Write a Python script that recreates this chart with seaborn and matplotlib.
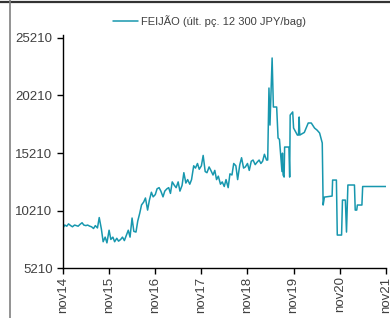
import pandas as pd
import matplotlib.pyplot as plt
import seaborn as sns
from matplotlib.lines import Line2D

# --- dados (preço do feijão, JPY/bag) ---
datas = [
    "2014-11-01", "2014-11-15", "2014-12-01", "2014-12-15", "2015-01-01", "2015-01-15",
    "2015-02-01", "2015-02-15", "2015-03-01", "2015-03-15", "2015-04-01", "2015-04-15",
    "2015-05-01", "2015-05-15", "2015-06-01", "2015-06-15", "2015-07-01", "2015-07-15",
    "2015-08-01", "2015-08-15", "2015-09-01", "2015-09-15", "2015-10-01", "2015-10-15",
    "2015-11-01", "2015-11-15", "2015-12-01", "2015-12-15", "2016-01-01", "2016-01-15",
    "2016-02-01", "2016-02-15", "2016-03-01", "2016-03-15", "2016-04-01", "2016-04-15",
    "2016-05-01", "2016-05-15", "2016-06-01", "2016-06-15", "2016-07-01", "2016-07-15",
    "2016-08-01", "2016-08-15", "2016-09-01", "2016-09-15", "2016-10-01", "2016-10-15",
    "2016-11-01", "2016-11-15", "2016-12-01", "2016-12-15", "2017-01-01", "2017-01-15",
    "2017-02-01", "2017-02-15", "2017-03-01", "2017-03-15", "2017-04-01", "2017-04-15",
    "2017-05-01", "2017-05-15", "2017-06-01", "2017-06-15", "2017-07-01", "2017-07-15",
    "2017-08-01", "2017-08-15", "2017-09-01", "2017-09-15", "2017-10-01", "2017-10-15",
    "2017-11-01", "2017-11-15", "2017-12-01", "2017-12-15", "2018-01-01", "2018-01-15",
    "2018-02-01", "2018-02-15", "2018-03-01", "2018-03-15", "2018-04-01", "2018-04-15",
    "2018-05-01", "2018-05-15", "2018-06-01", "2018-06-15", "2018-07-01", "2018-07-15",
    "2018-08-01", "2018-08-15", "2018-09-01", "2018-09-15", "2018-10-01", "2018-10-15",
    "2018-11-01", "2018-11-15", "2018-12-01", "2018-12-15", "2019-01-01", "2019-01-15",
    "2019-02-01", "2019-02-15", "2019-03-01", "2019-03-15", "2019-04-01", "2019-04-10",
    "2019-04-20", "2019-04-28", "2019-05-05", "2019-05-15", "2019-05-25", "2019-06-20",
    "2019-07-01", "2019-07-12", "2019-08-01", "2019-08-05", "2019-08-10", "2019-08-18",
    "2019-08-22", "2019-09-25", "2019-10-01", "2019-10-05", "2019-10-25", "2019-11-01",
    "2019-12-01", "2019-12-10", "2019-12-15", "2019-12-20", "2020-01-25", "2020-02-25",
    "2020-03-20", "2020-04-15", "2020-05-05", "2020-05-25", "2020-06-15", "2020-06-22",
    "2020-07-02", "2020-09-01", "2020-09-05", "2020-10-05", "2020-10-12", "2020-11-15",
    "2020-11-22", "2020-12-15", "2020-12-24", "2021-01-04", "2021-02-25", "2021-03-03",
    "2021-03-15", "2021-03-20", "2021-04-25", "2021-05-01", "2021-11-01",
]
precos = [
    8700, 8950, 8850, 9050, 8900, 8800,
    8950, 8900, 8850, 9000, 9150, 8950,
    8900, 8950, 8850, 8800, 8650, 8900,
    8700, 9600, 8600, 7500, 7900, 7400,
    8500, 7700, 7900, 7500, 7800, 7550,
    7700, 7900, 7600, 8000, 8500, 7900,
    9560, 8400, 8340, 9300, 9990, 10700,
    10950, 11300, 10250, 11100, 11800, 11400,
    11600, 12100, 12200, 11900, 11400, 11900,
    12100, 12200, 11700, 12700, 12400, 12200,
    12700, 11900, 12400, 13500, 12600, 12900,
    12500, 12900, 14100, 13900, 14300, 13800,
    14100, 15000, 13600, 13500, 14000, 13700,
    13300, 13700, 12900, 13200, 12500, 12700,
    12300, 12900, 12200, 13400, 13300, 14300,
    14100, 12900, 14200, 14800, 13900, 14000,
    14300, 13700, 14500, 14600, 14200, 14400,
    14600, 14300, 14500, 15100, 14600, 14600,
    20860, 17640, 20000, 23470, 19210, 19210,
    16510, 16400, 13600, 15200, 13300, 13120,
    15730, 15730, 13120, 18510, 18780, 17380,
    16770, 16770, 18340, 16770, 17000, 17820,
    17820, 17380, 17200, 16950, 16080, 10690,
    11380, 11470, 12860, 12860, 8080, 8080,
    11120, 11120, 8340, 12430, 12430, 10250,
    10250, 10690, 10690, 12300, 12300,
]
ticks_x = ["2014-11-01", "2015-11-01", "2016-11-01", "2017-11-01",
           "2018-11-01", "2019-11-01", "2020-11-01", "2021-11-01"]
rotulos_x = ["nov14", "nov15", "nov16", "nov17", "nov18", "nov19", "nov20", "nov21"]
ticks_y = [5210, 10210, 15210, 20210, 25210]

df = pd.DataFrame({"data": pd.to_datetime(datas), "preco": precos})

sns.set_style("ticks")
plt.rcParams["font.family"] = ["Liberation Sans", "DejaVu Sans"]

fig = plt.figure(figsize=(3.9, 3.18), dpi=100)
ax = fig.add_axes([0.1615, 0.157, 0.828, 0.733])

sns.lineplot(x="data", y="preco", data=df, ax=ax, color="#1797ae",
             linewidth=1.1, label="FEIJÃO (últ. pç. 12 300 JPY/bag)")

ax.set_xlim(pd.Timestamp("2014-11-01"), pd.Timestamp("2021-11-01"))
ax.set_ylim(5210, 25470)
ax.set_xticks(pd.to_datetime(ticks_x))
ax.set_xticklabels(rotulos_x, rotation=90, fontsize=9.5, color="#404040")
ax.set_yticks(ticks_y)
ax.set_yticklabels([str(v) for v in ticks_y], fontsize=9.5, color="#404040")
ax.tick_params(axis="both", length=4, width=1, color="black")
ax.tick_params(axis="x", pad=2)
ax.set_xlabel("")
ax.set_ylabel("")
sns.despine(ax=ax)
for s in ["left", "bottom"]:
    ax.spines[s].set_color("black")
    ax.spines[s].set_linewidth(1)

ax.legend(loc="center", bbox_to_anchor=(0.538, 0.935), bbox_transform=fig.transFigure,
          frameon=False, fontsize=8, handlelength=2.2, handletextpad=0.3,
          labelcolor="#404040")

# bordas da moldura (topo e esquerda)
fig.add_artist(Line2D([0, 1], [0.995, 0.995], transform=fig.transFigure,
                      color="#333333", linewidth=1.6))
fig.add_artist(Line2D([0.026, 0.026], [0, 1], transform=fig.transFigure,
                      color="#808080", linewidth=1.2))

fig.savefig("out.png", dpi=100)
